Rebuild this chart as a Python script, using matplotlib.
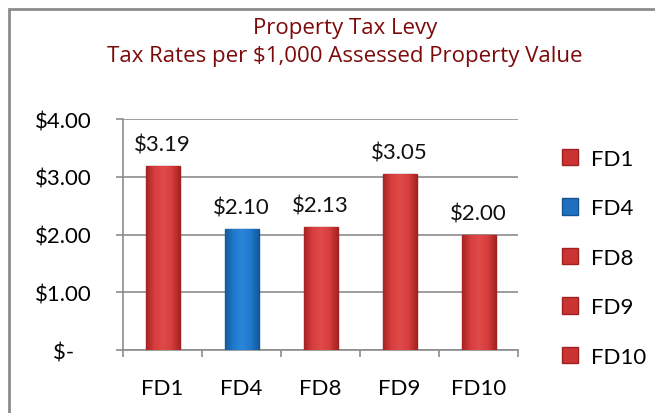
import matplotlib.pyplot as plt
import matplotlib.patches as patches
from matplotlib.colors import LinearSegmentedColormap
import numpy as np

districts = ["FD1", "FD4", "FD8", "FD9", "FD10"]
rates = [3.19, 2.10, 2.13, 3.05, 2.00]
bar_colors = ["#cc3333", "#1f70c1", "#cc3333", "#cc3333", "#cc3333"]
edge_colors = ["#9e2222", "#15528f", "#9e2222", "#9e2222", "#9e2222"]
rate_labels = ["$3.19", "$2.10", "$2.13", "$3.05", "$2.00"]
y_ticks = [0, 1, 2, 3, 4]
y_tick_labels = ["$-   ", "$1.00", "$2.00", "$3.00", "$4.00"]

plt.rcParams['font.family'] = ['Lato', 'DejaVu Sans']

red_cmap = LinearSegmentedColormap.from_list("r", ["#a82424", "#d83e3e", "#e04a4a", "#d83e3e", "#a82424"])
blue_cmap = LinearSegmentedColormap.from_list("b", ["#145a9e", "#2079cc", "#2a86d8", "#2079cc", "#145a9e"])

fig = plt.figure(figsize=(6.55, 4.14), dpi=100)
ax = fig.add_axes([0.188, 0.152, 0.603, 0.558])

# outer chart frame (grey, runs off the right and bottom edges)
frame = patches.Rectangle((9/655, -0.1), 1.2, 1.1 - 10/414, transform=fig.transFigure,
                          fill=False, edgecolor="#8c8c8c", linewidth=2)
fig.patches.append(frame)

x = np.arange(len(districts))
bars = ax.bar(x, rates, width=0.43, color=bar_colors, edgecolor=edge_colors,
              linewidth=1, zorder=3)

# glassy shading across each bar
grad = np.linspace(0, 1, 64).reshape(1, -1)
for b, c in zip(bars, bar_colors):
    cmap = blue_cmap if c == "#1f70c1" else red_cmap
    x0, w, h = b.get_x(), b.get_width(), b.get_height()
    im = ax.imshow(grad, cmap=cmap, aspect="auto", extent=(x0, x0 + w, 0, h), zorder=3.5)
    im.set_clip_path(b)

for xi, r, lab in zip(x, rates, rate_labels):
    ax.text(xi, r + 0.2, lab, ha="center", va="bottom", fontsize=16, color="#111111")

ax.set_xlim(-0.5, 4.5)
ax.set_ylim(0, 4)
ax.set_yticks(y_ticks)
ax.set_yticklabels(y_tick_labels, fontsize=16)
ax.set_xticks(x)
ax.set_xticklabels(districts, fontsize=16)
ax.set_xticks(np.arange(-0.5, 5, 1), minor=True)
ax.tick_params(axis="x", which="major", length=0, pad=20)
ax.tick_params(axis="x", which="minor", length=5, color="#8c8c8c", width=1.2)
ax.tick_params(axis="y", length=5, color="#8c8c8c", width=1.2, pad=18)

ax.grid(axis="y", color="#8c8c8c", linewidth=1.2, zorder=0)
for side in ["top", "right"]:
    ax.spines[side].set_visible(False)
for side in ["left", "bottom"]:
    ax.spines[side].set_color("#8c8c8c")
    ax.spines[side].set_linewidth(1.2)

fig.text(0.527, 0.93, "Property Tax Levy", ha="center", va="center",
         fontsize=16, color="#7d0a0a", family=["Open Sans", "DejaVu Sans"])
fig.text(0.527, 0.863, "Tax Rates per $1,000 Assessed Property Value", ha="center",
         va="center", fontsize=16, color="#7d0a0a", family=["Open Sans", "DejaVu Sans"])

handles = [patches.Patch(facecolor=c, edgecolor=e) for c, e in zip(bar_colors, edge_colors)]
ax.legend(handles, districts, loc="center left", bbox_to_anchor=(1.06, 0.40),
          frameon=False, fontsize=16, handlelength=0.75, handleheight=0.75,
          labelspacing=1.33, handletextpad=0.55)

fig.savefig("out.png", dpi=100)
